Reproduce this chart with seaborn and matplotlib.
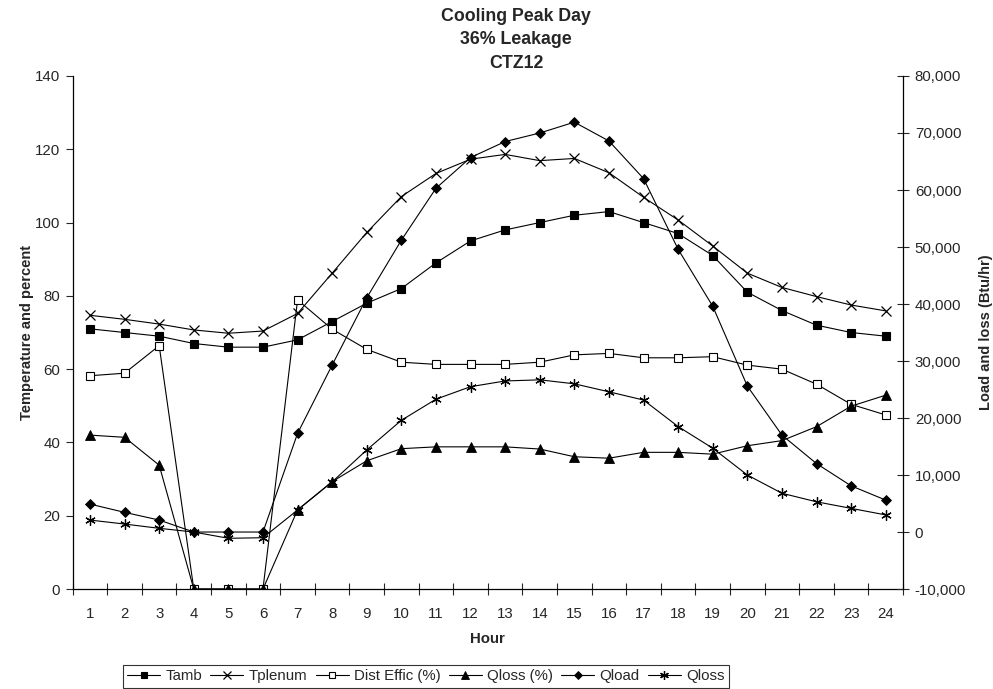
import numpy as np
import pandas as pd
import matplotlib
matplotlib.use("Agg")
import matplotlib.pyplot as plt
from matplotlib.ticker import FuncFormatter, FixedLocator, NullFormatter
import seaborn as sns

# ---------------- data ----------------
hours = list(range(1, 25))
tamb = [71, 70, 69, 67, 66, 66, 68, 73, 78, 82, 89, 95, 98, 100, 102, 103, 100, 97, 91, 81, 76, 72, 70, 69]
tplenum = [74.7, 73.6, 72.3, 70.7, 69.8, 70.4, 75.2, 86.2, 97.3, 107.1, 113.4, 117.3,
           118.6, 116.9, 117.5, 113.6, 106.9, 100.7, 93.6, 86.2, 82.3, 79.8, 77.5, 75.9]
dist_effic = [58.2, 58.9, 66.4, 0, 0, 0, 78.9, 70.9, 65.4, 61.9, 61.3, 61.3,
              61.3, 61.9, 63.9, 64.3, 63.1, 63.1, 63.4, 61.1, 60.0, 55.9, 50.4, 47.5]
qloss_pct = [42.0, 41.4, 33.8, 0, 0, 0, 21.6, 29.3, 35.0, 38.3, 38.8, 38.8,
             38.8, 38.2, 36.1, 35.7, 37.3, 37.3, 36.8, 39.1, 40.5, 44.3, 49.9, 52.9]
qload = [4900, 3450, 2100, 0, 0, 0, 17300, 29300, 41100, 51200, 60300, 65700,
         68500, 70000, 71900, 68600, 62000, 49600, 39600, 25600, 17000, 12000, 8100, 5600]
qloss = [2100, 1400, 650, 0, -1100, -1000, 3860, 8800, 14400, 19600, 23300, 25500,
         26500, 26700, 26000, 24600, 23150, 18500, 14700, 10000, 6800, 5300, 4150, 3000]

title_lines = ["Cooling Peak Day", "36% Leakage", "CTZ12"]
left_ticks = [0, 20, 40, 60, 80, 100, 120, 140]
right_ticks = [-10000, 0, 10000, 20000, 30000, 40000, 50000, 60000, 70000, 80000]

df = pd.DataFrame({"Hour": hours, "Tamb": tamb, "Tplenum": tplenum,
                   "Dist Effic (%)": dist_effic, "Qloss (%)": qloss_pct,
                   "Qload": qload, "Qloss": qloss})

# ---------------- style ----------------
sns.set_style("white")
plt.rcParams["font.family"] = ["Liberation Sans", "DejaVu Sans"]
plt.rcParams["axes.linewidth"] = 0.9

fig = plt.figure(figsize=(9.93, 6.89), dpi=100)
ax = fig.add_axes([0.0732, 0.1451, 0.8362, 0.7446])
ax2 = ax.twinx()

lw = 0.8
common = dict(color="black", linewidth=lw, markeredgecolor="black")

sns.lineplot(data=df, x="Hour", y="Tamb", ax=ax, marker="s", markersize=5.3,
             markerfacecolor="black", markeredgewidth=0.8, label="Tamb", **common)
sns.lineplot(data=df, x="Hour", y="Tplenum", ax=ax, marker="x", markersize=6.5,
             markeredgewidth=0.9, label="Tplenum", **common)
sns.lineplot(data=df, x="Hour", y="Dist Effic (%)", ax=ax, marker="s", markersize=5.3,
             markerfacecolor="white", markeredgewidth=0.8, label="Dist Effic (%)", **common)
sns.lineplot(data=df, x="Hour", y="Qloss (%)", ax=ax, marker="^", markersize=6.5,
             markerfacecolor="black", markeredgewidth=0.6, label="Qloss (%)", **common)
sns.lineplot(data=df, x="Hour", y="Qload", ax=ax2, marker="D", markersize=4.6,
             markerfacecolor="black", markeredgewidth=0.6, label="Qload", **common)
sns.lineplot(data=df, x="Hour", y="Qloss", ax=ax2, marker=(6, 2, 0), markersize=7.5,
             markeredgewidth=0.9, label="Qloss", **common)

for a in (ax, ax2):
    lg = a.get_legend()
    if lg is not None:
        lg.remove()

# ---------------- axes ----------------
ax.set_xlim(0.5, 24.5)
ax.set_ylim(0, 140)
ax2.set_ylim(-10000, 80000)

ax.xaxis.set_major_locator(FixedLocator(np.arange(0.5, 25, 1)))
ax.xaxis.set_major_formatter(NullFormatter())
ax.xaxis.set_minor_locator(FixedLocator(hours))
ax.set_xticklabels([str(h) for h in hours], minor=True)
ax.tick_params(axis="x", which="major", direction="inout", length=8, width=0.8, bottom=True)
ax.tick_params(axis="x", which="minor", length=0, pad=13, labelsize=10.8)

ax.set_yticks(left_ticks)
ax.tick_params(axis="y", which="major", direction="out", length=5, width=0.8, left=True,
               pad=4, labelsize=10.8)
ax2.set_yticks(right_ticks)
ax2.yaxis.set_major_formatter(FuncFormatter(lambda v, p: f"{int(v):,}"))
ax2.tick_params(axis="y", which="major", direction="inout", length=9, width=0.8, right=True,
                pad=4, labelsize=10.8)

for a in (ax, ax2):
    a.spines["top"].set_visible(False)
    for s in a.spines.values():
        s.set_color("black")
ax.spines["right"].set_visible(False)
ax2.spines["left"].set_visible(False)
ax2.spines["bottom"].set_visible(False)
ax2.spines["right"].set_visible(True)

ax.set_xlabel("Hour", fontsize=10.8, fontweight="bold", labelpad=8)
ax.set_ylabel("Temperature and percent", fontsize=10.5, fontweight="bold", labelpad=0.5)
ax2.set_ylabel("Load and loss (Btu/hr)", fontsize=10.5, fontweight="bold", labelpad=9)

fig.text(516 / 993, 1 - 40 / 689, "\n".join(title_lines), ha="center", va="center",
         fontsize=12.8, fontweight="bold", linespacing=1.5)

# ---------------- legend ----------------
h1, l1 = ax.get_legend_handles_labels()
h2, l2 = ax2.get_legend_handles_labels()
leg = fig.legend(h1 + h2, l1 + l2, loc="lower left", bbox_to_anchor=(122.7 / 993, 1.5 / 689),
                 ncol=6, frameon=True, fancybox=False, edgecolor="black", fontsize=10.8,
                 handlelength=2.2, handletextpad=0.35, columnspacing=0.55,
                 borderpad=0.3, borderaxespad=0, markerscale=0.85)
leg.get_frame().set_linewidth(0.8)

fig.savefig("out.png", dpi=100)
